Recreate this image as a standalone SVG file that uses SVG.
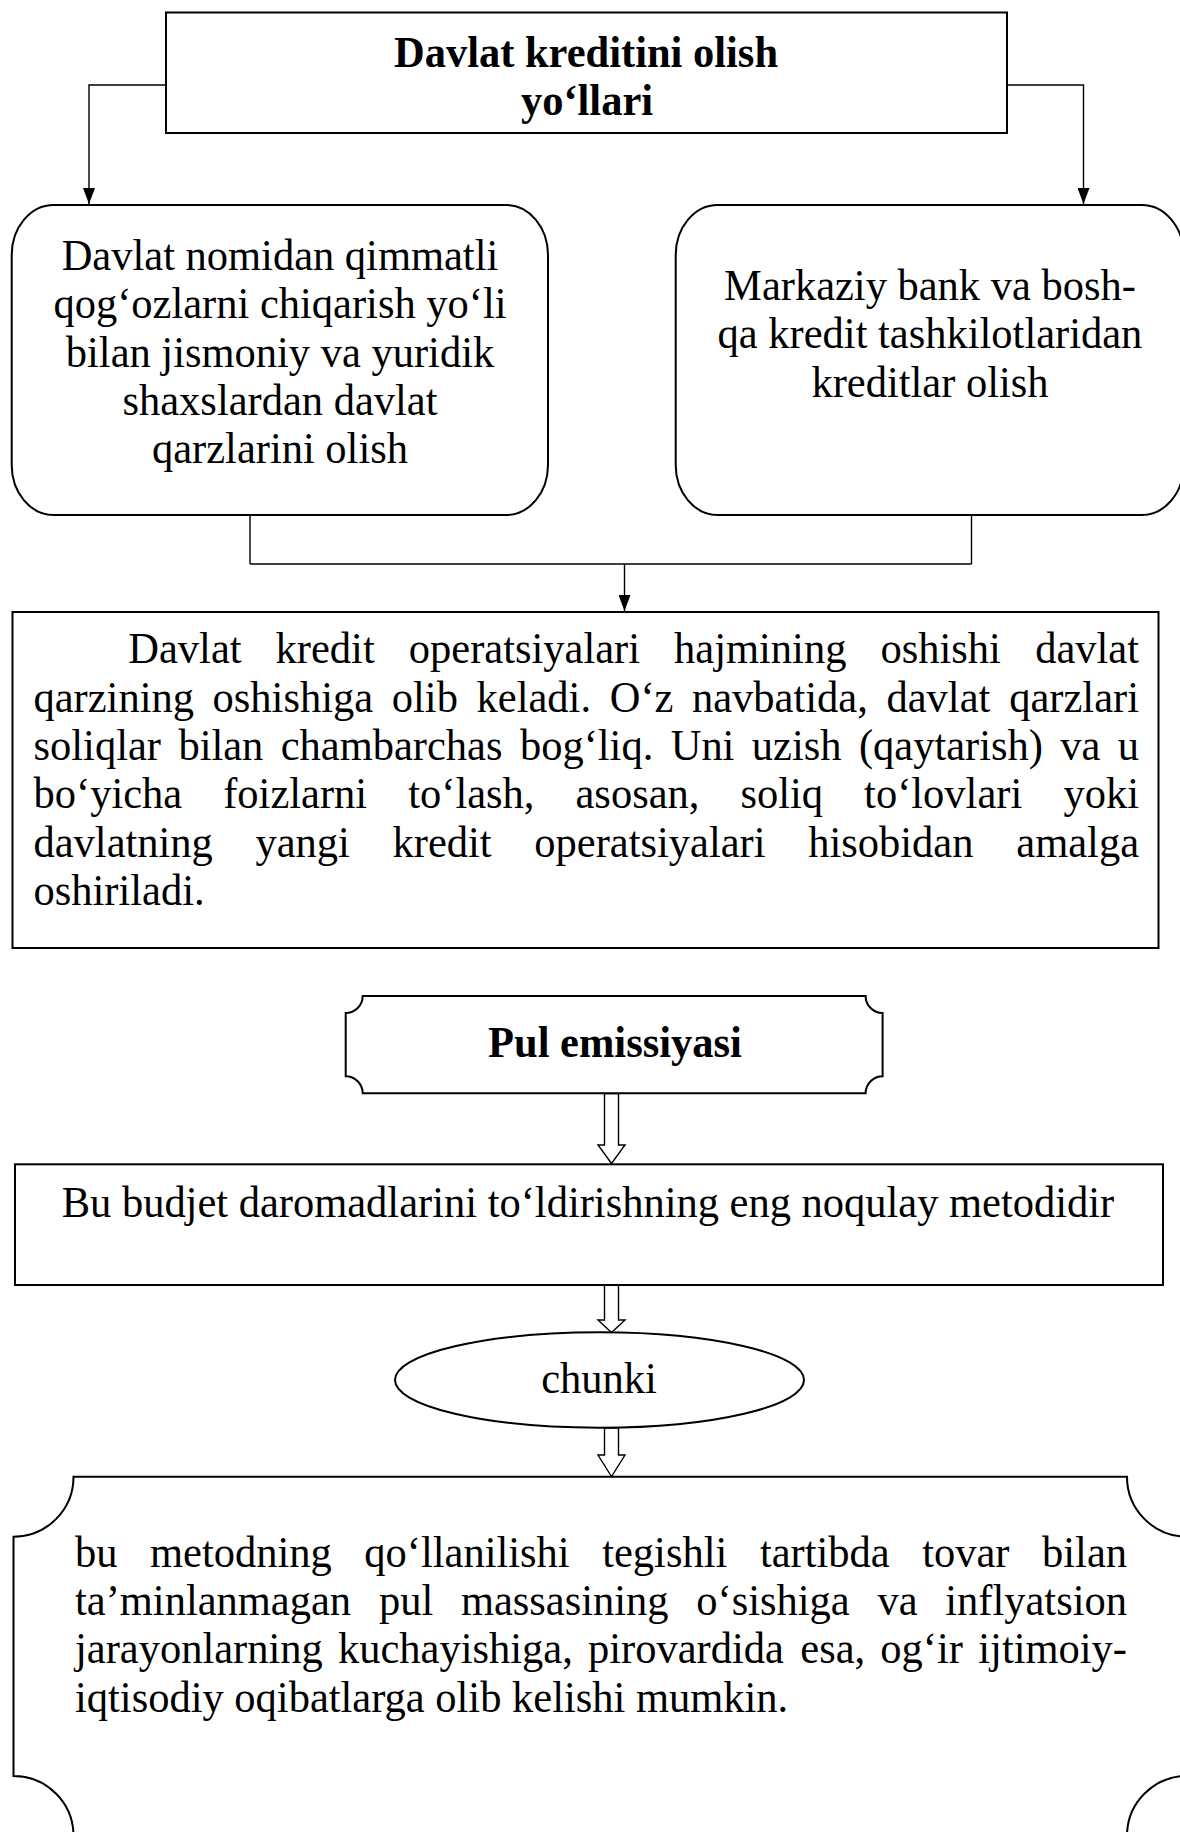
<svg xmlns="http://www.w3.org/2000/svg" width="1180" height="1832" viewBox="0 0 1180 1832">
<style>
.box{fill:#fff;stroke:#000;stroke-width:2}
.t{font-family:"Liberation Serif","Times New Roman",serif;font-size:42.5px;fill:#000;transform:scale(1,1.06);transform-origin:0 0}
.b{font-weight:bold}
.c{text-anchor:middle}
.e{text-anchor:end}
.ln{fill:none;stroke:#000;stroke-width:1.4}
.ha{fill:#fff;stroke:#000;stroke-width:1.4;stroke-linejoin:miter}
</style>
<defs>
<marker id="ah" viewBox="0 0 16 12" refX="16" refY="6" markerWidth="16" markerHeight="12" markerUnits="userSpaceOnUse" orient="auto">
<path d="M0,0 L16,6 L0,12 Z" fill="#000"/>
</marker>
</defs>
<rect width="1180" height="1832" fill="#fff"/>

<g id="connectors">
<polyline class="ln" points="166,85 89,85 89,204" marker-end="url(#ah)"/>
<polyline class="ln" points="1007,85 1083.5,85 1083.5,204" marker-end="url(#ah)"/>
<path class="ln" d="M250,515 V564 M971.5,515 V564 M250,564 H971.5"/>
<path class="ln" d="M624.5,564 V611" marker-end="url(#ah)"/>
<polygon class="ha" points="604.5,1093.5 618.5,1093.5 618.5,1145 625,1145 611.5,1163.5 598,1145 604.5,1145"/>
<polygon class="ha" points="604.5,1285 618.5,1285 618.5,1320 625,1320 611.5,1332.5 598,1320 604.5,1320"/>
<polygon class="ha" points="604.5,1428 618.5,1428 618.5,1455 625,1455 611.5,1476.5 598,1455 604.5,1455"/>
</g>

<g id="title">
<rect class="box" x="166" y="12.5" width="841" height="120.5"/>
<text class="t b c" x="586" y="63.21">Davlat kreditini olish</text>
<text class="t b c" x="587" y="108.49">yo‘llari</text>
</g>

<g id="left-way">
<rect class="box" x="11.7" y="205" width="536.3" height="310" rx="42" ry="50"/>
<text class="t c" x="280" y="254.72">Davlat nomidan qimmatli</text>
<text class="t c" x="280" y="300.28">qog‘ozlarni chiqarish yo‘li</text>
<text class="t c" x="280" y="345.94">bilan jismoniy va yuridik</text>
<text class="t c" x="280" y="391.51">shaxslardan davlat</text>
<text class="t c" x="280" y="437.08">qarzlarini olish</text>
</g>

<g id="right-way">
<rect class="box" x="675.7" y="205" width="508" height="310" rx="42" ry="50"/>
<text class="t c" x="930" y="283.02">Markaziy bank va bosh-</text>
<text class="t c" x="930" y="328.58">qa kredit tashkilotlaridan</text>
<text class="t c" x="930" y="374.25">kreditlar olish</text>
</g>

<g id="paragraph">
<rect class="box" x="12.5" y="612" width="1146" height="336"/>
<text class="t"><tspan x="128.3" y="625.75">Davlat</tspan><tspan x="275.6" y="625.75">kredit</tspan><tspan x="408.8" y="625.75">operatsiyalari</tspan><tspan x="674.1" y="625.75">hajmining</tspan><tspan x="880.5" y="625.75">oshishi</tspan></text>
<text class="t e" x="1139" y="625.75">davlat</text>
<text class="t"><tspan x="33.5" y="671.42">qarzining</tspan><tspan x="212.6" y="671.42">oshishiga</tspan><tspan x="391.8" y="671.42">olib</tspan><tspan x="476.6" y="671.42">keladi.</tspan><tspan x="609.7" y="671.42">O‘z</tspan><tspan x="692" y="671.42">navbatida,</tspan><tspan x="886.5" y="671.42">davlat</tspan></text>
<text class="t e" x="1139" y="671.42">qarzlari</text>
<text class="t"><tspan x="33.5" y="716.98">soliqlar</tspan><tspan x="178.4" y="716.98">bilan</tspan><tspan x="280.7" y="716.98">chambarchas</tspan><tspan x="519.9" y="716.98">bog‘liq.</tspan><tspan x="670.7" y="716.98">Uni</tspan><tspan x="751.8" y="716.98">uzish</tspan><tspan x="858.9" y="716.98">(qaytarish)</tspan><tspan x="1060.3" y="716.98">va</tspan></text>
<text class="t e" x="1139" y="716.98">u</text>
<text class="t"><tspan x="33.5" y="762.55">bo‘yicha</tspan><tspan x="223.2" y="762.55">foizlarni</tspan><tspan x="408.2" y="762.55">to‘lash,</tspan><tspan x="575.5" y="762.55">asosan,</tspan><tspan x="740.4" y="762.55">soliq</tspan><tspan x="864.1" y="762.55">to‘lovlari</tspan></text>
<text class="t e" x="1139" y="762.55">yoki</text>
<text class="t"><tspan x="33.5" y="808.21">davlatning</tspan><tspan x="255.5" y="808.21">yangi</tspan><tspan x="392.5" y="808.21">kredit</tspan><tspan x="534.3" y="808.21">operatsiyalari</tspan><tspan x="808.2" y="808.21">hisobidan</tspan></text>
<text class="t e" x="1139" y="808.21">amalga</text>
<text class="t" x="33.5" y="853.77">oshiriladi.</text>
</g>

<g id="emission">
<path class="box" d="M362.7,996 H865.6 A17,17 0 0 0 882.6,1013 V1076.3 A17,17 0 0 0 865.6,1093.3 H362.7 A17,17 0 0 0 345.7,1076.3 V1013 A17,17 0 0 0 362.7,996 Z"/>
<text class="t b c" x="615" y="996.89">Pul emissiyasi</text>
</g>

<g id="method">
<rect class="box" x="15" y="1164.3" width="1148" height="120.7"/>
<text class="t" x="61.7" y="1148.11">Bu budjet daromadlarini to‘ldirishning eng noqulay metodidir</text>
</g>

<g id="because">
<ellipse class="box" cx="599.5" cy="1380" rx="204.5" ry="47.7"/>
<text class="t c" x="599" y="1314.43">chunki</text>
</g>

<g id="consequence">
<path class="box" d="M73.5,1476.7 H1127 A60,60 0 0 0 1187,1536.7 V1776 A60,60 0 0 0 1127,1836 H73.5 A60,60 0 0 0 13.5,1776 V1536.7 A60,60 0 0 0 73.5,1476.7 Z"/>
<text class="t"><tspan x="75" y="1478.02">bu</tspan><tspan x="150" y="1478.02">metodning</tspan><tspan x="364.3" y="1478.02">qo‘llanilishi</tspan><tspan x="602.2" y="1478.02">tegishli</tspan><tspan x="759.9" y="1478.02">tartibda</tspan><tspan x="922.2" y="1478.02">tovar</tspan></text>
<text class="t e" x="1127" y="1478.02">bilan</text>
<text class="t"><tspan x="75" y="1523.58">ta’minlanmagan</tspan><tspan x="378.9" y="1523.58">pul</tspan><tspan x="460.9" y="1523.58">massasining</tspan><tspan x="696.3" y="1523.58">o‘sishiga</tspan><tspan x="877.4" y="1523.58">va</tspan></text>
<text class="t e" x="1127" y="1523.58">inflyatsion</text>
<text class="t"><tspan x="75" y="1569.15">jarayonlarning</tspan><tspan x="338" y="1569.15">kuchayishiga,</tspan><tspan x="588" y="1569.15">pirovardida</tspan><tspan x="800.3" y="1569.15">esa,</tspan><tspan x="880.3" y="1569.15">og‘ir</tspan></text>
<text class="t e" x="1127" y="1569.15">ijtimoiy-</text>
<text class="t" x="75" y="1614.81">iqtisodiy oqibatlarga olib kelishi mumkin.</text>
</g>
</svg>
